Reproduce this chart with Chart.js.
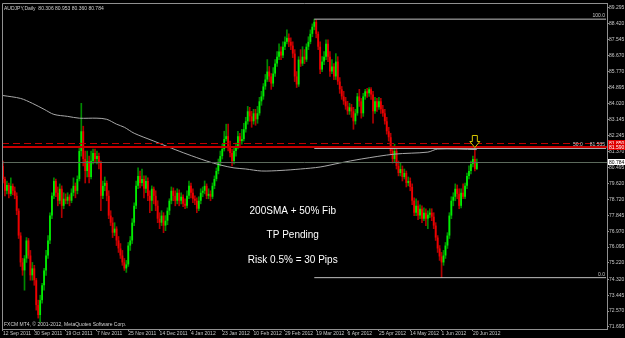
<!doctype html>
<html lang="en">
<head>
<meta charset="utf-8">
<title>AUDJPY Daily</title>
<script src="https://cdn.jsdelivr.net/npm/chart.js@4"></script>
<style>
  body { margin: 0; background: #000; }
  #box { width: 625px; height: 338px; }
</style>
</head>
<body>
<div id="box"><canvas id="chart" width="625" height="338"></canvas></div>
<script>
// date labels, one every 16 bars
const dateLabels = ["12 Sep 2011", "30 Sep 2011", "19 Oct 2011", "7 Nov 2011", "25 Nov 2011", "14 Dec 2011",
  "4 Jan 2012", "23 Jan 2012", "10 Feb 2012", "29 Feb 2012", "19 Mar 2012", "6 Apr 2012", "25 Apr 2012",
  "14 May 2012", "1 Jun 2012", "20 Jun 2012"];
const labelEvery = 16;
const slots = 309; // bars + empty space on the right

// daily candles
const opens = [
  80.57,79.85,79.20,79.52,79.03,79.47,79.20,78.92,78.10,76.73,
  75.25,74.81,75.47,76.46,75.63,74.54,74.92,74.27,72.90,72.35,
  73.17,73.99,74.81,75.63,76.46,77.83,78.92,79.74,79.09,78.65,
  79.31,78.37,78.76,78.65,78.87,78.65,79.09,79.47,79.20,79.85,
  81.39,82.48,80.95,80.29,80.84,79.96,80.84,81.28,80.95,81.11,
  80.73,78.92,79.47,79.63,78.92,77.83,77.44,76.89,77.11,76.46,
  76.02,75.63,75.25,74.92,75.14,76.18,76.46,77.44,78.37,79.47,
  80.02,79.63,79.85,79.31,79.74,78.92,78.65,79.31,78.92,78.37,
  77.66,77.44,77.83,77.28,77.55,78.10,78.65,79.20,78.92,78.65,
  79.09,78.65,78.87,78.48,78.37,78.92,79.47,79.09,78.76,78.65,
  78.21,78.65,79.09,79.20,79.47,78.92,79.03,78.87,79.47,79.85,
  80.29,80.73,81.11,81.50,82.05,82.21,81.66,81.28,80.84,81.39,
  81.66,82.21,81.94,82.05,82.59,83.03,83.58,83.30,83.03,83.47,
  83.14,83.47,84.13,84.40,84.95,85.33,85.77,85.50,85.11,85.66,
  86.21,86.59,86.87,86.65,87.14,87.41,87.63,87.41,87.20,86.76,
  85.50,85.06,86.43,86.21,86.59,86.43,87.14,87.41,87.85,88.24,
  88.51,87.85,87.14,85.88,86.32,86.59,87.30,86.59,85.77,86.05,
  85.50,86.32,85.22,84.79,84.40,84.13,83.85,83.58,83.80,83.58,
  83.03,83.47,84.40,84.13,83.47,84.40,84.68,84.57,84.79,84.51,
  83.58,84.13,83.80,84.13,83.69,83.47,83.03,82.48,82.15,81.39,
  80.95,81.39,80.57,80.18,80.40,79.96,80.18,79.63,79.74,79.41,
  78.65,77.99,78.37,77.83,78.21,77.66,77.99,77.66,77.88,77.99,
  77.77,77.28,76.62,76.02,75.58,75.25,75.63,76.18,76.73,77.83,
  78.65,78.87,79.31,79.03,78.37,79.09,78.87,79.47,80.02,80.29,
  80.68,80.95,80.40];
const highs = [
  80.84,79.96,79.74,79.63,79.91,79.58,79.41,79.09,78.21,76.89,
  75.47,75.63,76.62,76.57,75.91,75.25,75.09,74.37,73.17,73.44,
  74.10,74.92,75.91,76.73,77.99,79.09,79.91,79.85,79.41,79.58,
  79.47,79.09,79.03,79.09,78.98,79.31,79.91,79.63,80.02,81.66,
  84.02,82.76,81.39,81.39,81.11,81.39,81.50,81.50,81.39,81.28,
  80.84,79.74,79.96,79.74,79.20,78.10,77.72,77.44,77.22,76.68,
  76.29,75.91,75.47,75.36,76.35,76.68,77.66,78.54,79.74,80.46,
  80.29,80.40,80.02,80.02,79.91,79.20,79.47,79.41,79.20,78.65,
  77.99,78.10,77.99,77.83,78.26,78.76,79.41,79.36,79.20,79.31,
  79.25,79.09,78.98,78.76,79.20,79.74,79.63,79.31,78.92,78.81,
  78.87,79.31,79.41,79.74,79.58,79.31,79.20,79.63,80.02,80.46,
  80.95,81.39,81.77,82.48,82.87,82.87,81.94,81.50,81.61,81.83,
  82.48,82.37,82.59,82.92,83.25,83.85,83.80,83.58,83.69,83.69,
  83.85,84.35,84.68,85.11,85.61,86.43,86.05,85.66,85.99,86.43,
  86.87,87.30,87.14,87.41,87.69,88.07,87.85,87.63,87.41,86.98,
  85.77,86.59,86.98,87.14,86.98,87.30,87.69,88.07,88.40,88.66,
  88.62,87.96,87.41,86.59,86.87,87.52,87.52,86.87,86.43,86.21,
  86.76,86.59,85.44,84.95,84.68,84.35,84.13,84.02,83.96,83.80,
  83.69,84.57,84.79,84.29,84.57,84.79,84.84,84.89,84.89,84.68,
  84.35,84.29,84.35,84.29,83.91,83.69,83.25,82.70,82.37,81.66,
  81.77,81.50,80.84,80.73,80.57,80.40,80.29,79.96,79.91,79.58,
  78.81,78.76,78.65,78.43,78.37,78.26,78.21,78.10,78.21,78.21,
  77.99,77.44,76.73,76.18,75.80,75.91,76.35,76.89,77.99,78.87,
  79.09,79.58,79.52,79.31,79.31,79.58,79.63,80.18,80.57,80.84,
  81.11,81.53,80.95];
const lows = [
  79.63,78.92,79.03,78.81,78.92,78.98,78.76,77.88,76.57,75.03,
  74.54,73.72,75.25,75.47,74.27,74.27,73.99,72.62,72.18,71.96,
  73.01,73.72,74.54,75.47,76.29,77.66,78.76,78.87,78.37,78.48,
  77.72,78.21,78.48,78.48,78.37,78.54,78.92,78.81,79.03,79.74,
  81.11,80.57,79.63,79.96,79.63,79.85,80.68,80.73,80.68,80.40,
  78.10,78.76,79.20,78.65,77.66,77.28,76.62,76.73,76.18,75.80,
  75.47,75.09,74.81,74.70,75.03,75.91,76.29,77.28,78.21,79.31,
  79.36,79.47,78.81,79.09,78.65,77.99,78.10,78.48,78.10,77.44,
  77.11,77.28,76.89,77.00,77.33,77.88,78.48,78.65,78.37,78.48,
  78.37,78.48,78.32,78.21,78.26,78.76,78.81,78.54,78.43,77.99,
  78.10,78.48,78.87,79.03,78.76,78.76,78.65,78.76,79.31,79.74,
  80.13,80.57,80.95,81.39,81.94,81.39,81.06,80.57,80.68,81.11,
  81.50,81.61,81.77,81.94,82.43,82.87,83.03,82.70,82.87,82.81,
  82.92,83.36,83.91,84.24,84.79,85.22,85.22,84.79,84.95,85.50,
  86.05,86.43,86.43,86.54,86.98,87.30,87.14,86.98,86.54,85.22,
  84.89,84.95,86.05,86.10,86.21,86.32,86.98,87.30,87.69,88.07,
  87.63,86.98,85.66,85.77,86.15,86.43,86.32,85.50,85.66,85.33,
  85.33,85.06,84.57,84.24,83.96,83.69,83.41,83.41,83.25,82.59,
  82.87,83.36,83.85,83.20,83.30,84.24,84.35,84.40,84.24,82.92,
  83.47,83.58,83.69,83.47,83.30,82.87,82.32,81.94,81.22,80.73,
  80.78,80.40,80.02,80.02,79.74,79.85,79.41,79.47,79.20,78.43,
  77.83,77.83,77.61,77.66,77.44,77.55,77.28,77.11,77.72,77.55,
  77.11,76.46,75.80,75.36,74.41,75.09,75.47,76.02,76.57,77.66,
  78.37,78.65,78.76,78.21,78.26,78.76,78.76,79.31,79.85,80.13,
  80.51,80.29,80.36];
const closes = [
  79.85,79.20,79.52,79.03,79.47,79.20,78.92,78.10,76.73,75.25,
  74.81,75.47,76.46,75.63,74.54,74.92,74.27,72.90,72.35,73.17,
  73.99,74.81,75.63,76.46,77.83,78.92,79.74,79.09,78.65,79.31,
  78.37,78.76,78.65,78.87,78.65,79.09,79.47,79.20,79.85,81.39,
  82.48,80.95,80.29,80.84,79.96,80.84,81.28,80.95,81.11,80.73,
  78.92,79.47,79.63,78.92,77.83,77.44,76.89,77.11,76.46,76.02,
  75.63,75.25,74.92,75.14,76.18,76.46,77.44,78.37,79.47,80.02,
  79.63,79.85,79.31,79.74,78.92,78.65,79.31,78.92,78.37,77.66,
  77.44,77.83,77.28,77.55,78.10,78.65,79.20,78.92,78.65,79.09,
  78.65,78.87,78.48,78.37,78.92,79.47,79.09,78.76,78.65,78.21,
  78.65,79.09,79.20,79.47,78.92,79.03,78.87,79.47,79.85,80.29,
  80.73,81.11,81.50,82.05,82.21,81.66,81.28,80.84,81.39,81.66,
  82.21,81.94,82.05,82.59,83.03,83.58,83.30,83.03,83.47,83.14,
  83.47,84.13,84.40,84.95,85.33,85.77,85.50,85.11,85.66,86.21,
  86.59,86.87,86.65,87.14,87.41,87.63,87.41,87.20,86.76,85.50,
  85.06,86.43,86.21,86.59,86.43,87.14,87.41,87.85,88.24,88.51,
  87.85,87.14,85.88,86.32,86.59,87.30,86.59,85.77,86.05,85.50,
  86.32,85.22,84.79,84.40,84.13,83.85,83.58,83.80,83.58,83.03,
  83.47,84.40,84.13,83.47,84.40,84.68,84.57,84.79,84.51,83.58,
  84.13,83.80,84.13,83.69,83.47,83.03,82.48,82.15,81.39,80.95,
  81.39,80.57,80.18,80.40,79.96,80.18,79.63,79.74,79.41,78.65,
  77.99,78.37,77.83,78.21,77.66,77.99,77.66,77.88,77.99,77.77,
  77.28,76.62,76.02,75.58,75.25,75.63,76.18,76.73,77.83,78.65,
  78.87,79.31,79.03,78.37,79.09,78.87,79.47,80.02,80.29,80.68,
  80.95,80.40,80.78];

// 200 SMA, read at some bars
const smaBars = [0, 9, 15, 21, 26, 33, 39, 48, 53, 58, 62, 67, 77, 86, 94, 104, 111, 118, 124, 132, 142, 152, 162, 172, 183, 200, 217, 222, 242];
const smaValues = [84.45, 84.29, 84.02, 83.69, 83.41, 83.30, 83.20, 83.20, 83.14, 82.87, 82.70, 82.37, 81.94, 81.55, 81.22, 80.84, 80.62, 80.46, 80.40, 80.29, 80.32, 80.40, 80.51, 80.73, 80.95, 81.22, 81.33, 81.50, 81.47];

// price axis
const priceTicks = [89.295, 88.420, 87.545, 86.670, 85.770, 84.895, 84.020, 83.145, 82.245, 81.370, 80.495,
  79.620, 78.720, 77.845, 76.970, 76.095, 75.220, 74.320, 73.445, 72.570, 71.695];
const priceMin = 71.58, priceMax = 89.55;

// fibonacci from the March high to the June low
const fibStartBar = 159;
const fibLevels = ["100.0", "50.0", "0.0"];
const fibPrices = [88.66, 81.535, 74.41];

// horizontal lines and right-hand price boxes
const redDashed = 81.85, redSolid = 81.59, bidPrice = 80.784;
const arrowBar = 241;

const notes = ["200SMA + 50% Fib", "TP Pending", "Risk 0.5% = 30 Pips"];
const noteBar = 148;
const notePrices = [78.05, 76.73, 75.39];

const FONT = "'Liberation Sans', Arial, sans-serif";
const up = (i) => closes[i] >= opens[i];

const smaData = new Array(slots).fill(null);
smaBars.forEach((b, k) => { smaData[b] = smaValues[k]; });

function fibData(p) {
  const d = new Array(slots).fill(null);
  d[fibStartBar] = p;
  d[slots - 1] = p;
  return d;
}

const overlay = {
  id: 'overlay',
  afterDatasetsDraw(chart) {
    const ctx = chart.ctx;
    const a = chart.chartArea;
    const ys = chart.scales.y;
    ctx.save();
    function hline(v, color, width, dash) {
      const y = Math.round(ys.getPixelForValue(v)) + (width % 2 ? 0.5 : 0);
      ctx.strokeStyle = color;
      ctx.lineWidth = width;
      ctx.setLineDash(dash || []);
      ctx.beginPath();
      ctx.moveTo(a.left, y);
      ctx.lineTo(a.right, y);
      ctx.stroke();
      ctx.setLineDash([]);
    }
    hline(redDashed, '#c00000', 1, [7, 4]);
    hline(bidPrice, '#5c6a5c', 1);
    hline(redSolid, '#c80000', 2);
    ctx.restore();
  },
  afterDraw(chart) {
    const ctx = chart.ctx;
    const a = chart.chartArea;
    const xs = chart.scales.x, ys = chart.scales.y;
    ctx.save();

    // frame
    ctx.strokeStyle = '#909090';
    ctx.lineWidth = 1;
    ctx.beginPath();
    ctx.moveTo(a.left + 0.5, a.bottom);
    ctx.lineTo(a.left + 0.5, a.top + 0.5);
    ctx.lineTo(a.right, a.top + 0.5);
    ctx.stroke();

    // fib labels
    ctx.font = '5px ' + FONT;
    ctx.fillStyle = '#c8c8c8';
    ctx.textBaseline = 'bottom';
    ctx.textAlign = 'right';
    fibPrices.forEach((p, k) => {
      const y = ys.getPixelForValue(p) - 1;
      const txt = k === 1 ? fibLevels[k] + '     ' + p.toFixed(3) : fibLevels[k];
      ctx.fillText(txt, a.right - 2, y);
    });

    // arrow at the touch
    const cx = xs.getPixelForValue(arrowBar);
    const ty = ys.getPixelForValue(highs[arrowBar]) - 1;
    ctx.beginPath();
    ctx.moveTo(cx - 2.5, ty - 12);
    ctx.lineTo(cx + 2.5, ty - 12);
    ctx.lineTo(cx + 2.5, ty - 6);
    ctx.lineTo(cx + 5, ty - 6);
    ctx.lineTo(cx, ty);
    ctx.lineTo(cx - 5, ty - 6);
    ctx.lineTo(cx - 2.5, ty - 6);
    ctx.closePath();
    ctx.fillStyle = '#000';
    ctx.fill();
    ctx.strokeStyle = '#d8c800';
    ctx.stroke();

    // notes
    ctx.font = '10px ' + FONT;
    ctx.fillStyle = '#ffffff';
    ctx.textAlign = 'center';
    ctx.textBaseline = 'middle';
    notes.forEach((t, k) => ctx.fillText(t, xs.getPixelForValue(noteBar), ys.getPixelForValue(notePrices[k])));

    // header and copyright
    ctx.font = '5px ' + FONT;
    ctx.fillStyle = '#d0d0d0';
    ctx.textAlign = 'left';
    ctx.textBaseline = 'top';
    ctx.fillText('AUDJPY,Daily  80.306 80.953 80.360 80.784', a.left + 2, a.top + 3);
    ctx.textBaseline = 'bottom';
    ctx.fillText('FXCM MT4, \u00a9 2001-2012, MetaQuotes Software Corp.', a.left + 2, a.bottom - 2);

    // price boxes on the axis
    function box(v, bg, fg) {
      const y = ys.getPixelForValue(v);
      ctx.fillStyle = bg;
      ctx.fillRect(a.right + 1, Math.round(y) - 3, 17, 6);
      ctx.fillStyle = fg;
      ctx.textBaseline = 'middle';
      ctx.fillText(v.toFixed(3), a.right + 2, y + 0.5);
    }
    box(redDashed, '#e00000', '#ffffff');
    box(redSolid, '#e00000', '#ffffff');
    box(bidPrice, '#ffffff', '#000000');
    ctx.restore();
  }
};

new Chart(document.getElementById('chart'), {
  type: 'bar',
  data: {
    labels: Array.from({ length: slots }, (_, i) => String(i)),
    datasets: [
      {
        label: 'wicks',
        data: lows.map((l, i) => [l, highs[i]]),
        backgroundColor: lows.map((l, i) => up(i) ? '#008a00' : '#b00000'),
        barThickness: 1,
        grouped: false,
        order: 3
      },
      {
        label: 'bodies',
        data: opens.map((o, i) => [o, closes[i]]),
        backgroundColor: opens.map((o, i) => up(i) ? '#00ee00' : '#ee0000'),
        barPercentage: 0.9,
        categoryPercentage: 1,
        minBarLength: 1,
        grouped: false,
        order: 2
      },
      {
        type: 'line',
        label: 'SMA 200',
        data: smaData,
        spanGaps: true,
        borderColor: '#a8a8a8',
        borderWidth: 1,
        pointRadius: 0,
        tension: 0.3,
        order: 1
      },
      ...fibPrices.map(p => ({
        type: 'line',
        label: 'fib',
        data: fibData(p),
        spanGaps: true,
        borderColor: '#c0c0c0',
        borderWidth: 1,
        pointRadius: 0,
        order: 0
      }))
    ]
  },
  options: {
    responsive: false,
    animation: false,
    devicePixelRatio: 1,
    layout: { padding: { left: 2, top: 1, right: 0, bottom: 0 } },
    plugins: { legend: { display: false }, tooltip: { enabled: false } },
    scales: {
      x: {
        type: 'category',
        offset: true,
        afterBuildTicks: s => { s.ticks = s.ticks.filter(t => t.value % labelEvery === 0 && t.value / labelEvery < dateLabels.length); },
        afterFit: s => { s.height = 9; },
        ticks: {
          autoSkip: false, maxRotation: 0, align: 'start', padding: 0,
          color: '#c8c8c8', font: { size: 5, family: FONT },
          callback: v => dateLabels[v / labelEvery]
        },
        grid: { drawOnChartArea: false, offset: false, tickLength: 2, color: '#909090' },
        border: { color: '#909090' }
      },
      y: {
        type: 'linear',
        position: 'right',
        min: priceMin,
        max: priceMax,
        afterBuildTicks: s => { s.ticks = priceTicks.map(v => ({ value: v })); },
        afterFit: s => { s.width = 18; },
        ticks: { padding: 0, color: '#c8c8c8', font: { size: 5, family: FONT }, callback: v => v.toFixed(3) },
        grid: { drawOnChartArea: false, tickLength: 2, color: '#909090' },
        border: { color: '#909090' }
      }
    }
  },
  plugins: [overlay]
});
</script>
</body>
</html>
